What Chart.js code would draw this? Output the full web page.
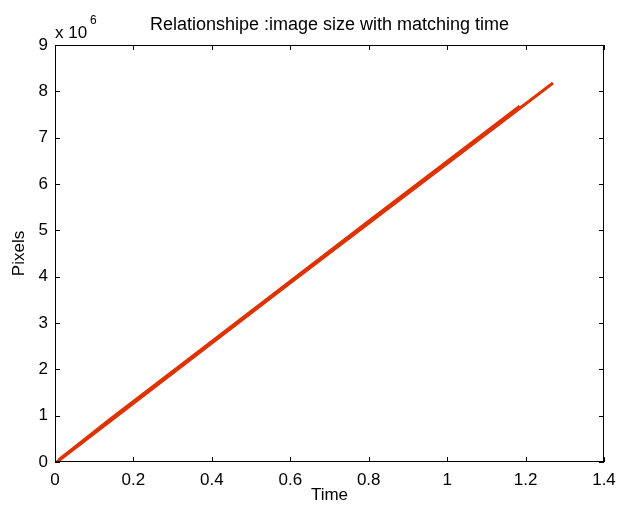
<!DOCTYPE html>
<html>
<head>
<meta charset="utf-8">
<script src="https://cdn.jsdelivr.net/npm/chart.js@4.4.0/dist/chart.umd.min.js"></script>
<style>
  html, body { margin: 0; padding: 0; background: #fff; }
  #wrap { width: 618px; height: 507px; }
</style>
</head>
<body>
<div id="wrap"><canvas id="myChart" width="618" height="507"></canvas></div>
<script>
const timeA = [0.01, 0.14, 0.4, 0.8, 1.185];
const pixelsA = [0.05e6, 0.92e6, 2.6e6, 5.2e6, 7.68e6];
const timeB = [0.005, 0.6, 1.27];
const pixelsB = [0, 3.87e6, 8.18e6];
const xTicks = [0, 0.2, 0.4, 0.6, 0.8, 1, 1.2, 1.4];
const yTicks = [0, 1, 2, 3, 4, 5, 6, 7, 8, 9];
const titleText = 'Relationshipe :image size with matching time';

const lineColor = 'rgb(222, 50, 0)';
const fam = 'Liberation Sans, Arial, sans-serif';
const tickFont = { family: fam, size: 17 };
const labelFont = { family: fam, size: 17 };

function toPoints(xs, ys) {
    return xs.map((x, i) => ({ x: x, y: ys[i] / 1e6 }));
}

// matlab style box with inward ticks, title over the axes, exponent label
const boxPlugin = {
    id: 'box',
    afterDraw(chart) {
        const ctx = chart.ctx;
        const a = chart.chartArea;
        const xs = chart.scales.x, ys = chart.scales.y;
        ctx.save();
        ctx.strokeStyle = '#000';
        ctx.lineWidth = 1;
        ctx.strokeRect(a.left + 0.5, a.top + 0.5, a.right - a.left - 1, a.bottom - a.top - 1);
        ctx.beginPath();
        xTicks.forEach(t => {
            const px = Math.round(xs.getPixelForValue(t)) + 0.5;
            ctx.moveTo(px, a.bottom); ctx.lineTo(px, a.bottom - 5);
            ctx.moveTo(px, a.top); ctx.lineTo(px, a.top + 5);
        });
        yTicks.forEach(t => {
            const py = Math.round(ys.getPixelForValue(t)) + 0.5;
            ctx.moveTo(a.left, py); ctx.lineTo(a.left + 5, py);
            ctx.moveTo(a.right, py); ctx.lineTo(a.right - 5, py);
        });
        ctx.stroke();
        ctx.fillStyle = '#000';
        ctx.textBaseline = 'middle';
        ctx.textAlign = 'center';
        ctx.font = '18px ' + fam;
        ctx.fillText(titleText, (a.left + a.right) / 2, 25);
        ctx.textAlign = 'left';
        ctx.font = '17px ' + fam;
        ctx.fillText('x 10', a.left, 33);
        ctx.font = '12px ' + fam;
        ctx.fillText('6', a.left + 35, 21);
        ctx.restore();
    }
};

const ctx = document.getElementById('myChart').getContext('2d');
const myChart = new Chart(ctx, {
    type: 'scatter',
    data: {
        datasets: [{
            data: toPoints(timeB, pixelsB),
            showLine: true,
            borderColor: lineColor,
            borderWidth: 3,
            pointRadius: 0
        }, {
            data: toPoints(timeA, pixelsA),
            showLine: true,
            borderColor: lineColor,
            borderWidth: 3,
            pointRadius: 0
        }]
    },
    plugins: [boxPlugin],
    options: {
        responsive: false,
        animation: false,
        layout: { padding: { left: 0, right: 14, top: 45, bottom: 0 } },
        plugins: {
            legend: { display: false },
            tooltip: { enabled: false },
            title: { display: false }
        },
        scales: {
            x: {
                type: 'linear',
                min: 0, max: 1.4,
                afterBuildTicks: s => { s.ticks = xTicks.map(v => ({ value: v })); },
                afterFit: s => { s.height = 45; s.paddingLeft = 0; s.paddingRight = 0; },
                grid: { display: false, drawTicks: false },
                border: { display: false },
                ticks: { color: '#000', font: tickFont, padding: 8, maxRotation: 0, callback: v => String(v) },
                title: { display: true, text: 'Time', color: '#000', font: labelFont, padding: { top: 0, bottom: 1 } }
            },
            y: {
                type: 'linear',
                min: 0, max: 9,
                afterBuildTicks: s => { s.ticks = yTicks.map(v => ({ value: v })); },
                afterFit: s => { s.width = 55; s.paddingTop = 0; s.paddingBottom = 0; },
                grid: { display: false, drawTicks: false },
                border: { display: false },
                ticks: { color: '#000', font: tickFont, padding: 7, callback: v => String(v) },
                title: { display: true, text: 'Pixels', color: '#000', font: labelFont, padding: { top: 9, bottom: 0 } }
            }
        }
    }
});
</script>
</body>
</html>
